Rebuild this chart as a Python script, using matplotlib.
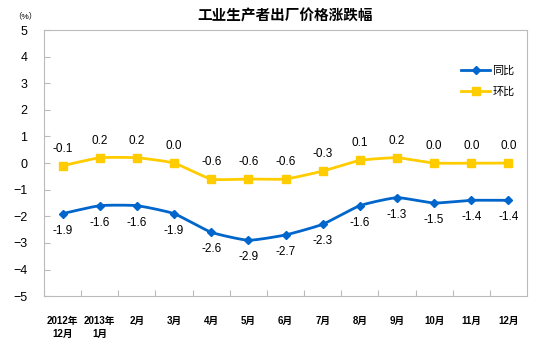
import matplotlib
matplotlib.use("Agg")
import matplotlib.pyplot as plt
import numpy as np

plt.rcParams['font.family'] = ['Liberation Sans', 'Noto Sans CJK SC', 'DejaVu Sans']

# Data
months = ["2012年\n12月", "2013年\n1月", "2月", "3月", "4月", "5月", "6月",
          "7月", "8月", "9月", "10月", "11月", "12月"]
yoy = [-1.9, -1.6, -1.6, -1.9, -2.6, -2.9, -2.7, -2.3, -1.6, -1.3, -1.5, -1.4, -1.4]
mom = [-0.1, 0.2, 0.2, 0.0, -0.6, -0.6, -0.6, -0.3, 0.1, 0.2, 0.0, 0.0, 0.0]

blue = "#0066CC"
yellow = "#FFCC00"


def smooth(x, y, n=20, k=0.5):
    # gentle cardinal spline, close to Excel's smoothed lines
    x = np.asarray(x, float)
    y = np.asarray(y, float)
    px = np.concatenate([[x[0]], x, [x[-1]]])
    py = np.concatenate([[y[0]], y, [y[-1]]])
    xs, ys = [], []
    t = np.linspace(0, 1, n, endpoint=False)
    h00 = 2 * t ** 3 - 3 * t ** 2 + 1
    h10 = t ** 3 - 2 * t ** 2 + t
    h01 = -2 * t ** 3 + 3 * t ** 2
    h11 = t ** 3 - t ** 2
    for i in range(1, len(px) - 2):
        for arr, out in ((px, xs), (py, ys)):
            p0, p1, p2, p3 = arr[i - 1], arr[i], arr[i + 1], arr[i + 2]
            m1 = k * (p2 - p0) / 2
            m2 = k * (p3 - p1) / 2
            out.extend(h00 * p1 + h10 * m1 + h01 * p2 + h11 * m2)
    xs.append(x[-1])
    ys.append(y[-1])
    return xs, ys


fig = plt.figure(figsize=(5.54, 3.62), dpi=100)
ax = fig.add_axes([0.0794, 0.182, 0.872, 0.735])

x = np.arange(len(months))

sx, sy = smooth(x, yoy)
ax.plot(sx, sy, color=blue, lw=2)
ax.plot(x, yoy, color=blue, lw=0, marker="D", ms=4.5)
ax.plot([], [], color=blue, lw=2, marker="D", ms=4.5, label="同比")

sx, sy = smooth(x, mom)
ax.plot(sx, sy, color=yellow, lw=2)
ax.plot(x, mom, color=yellow, lw=0, marker="s", ms=5.5)
ax.plot([], [], color=yellow, lw=2, marker="s", ms=5.5, label="环比")

for xi, v in zip(x, yoy):
    ax.annotate(f"{v:.1f}", (xi, v), xytext=(0, -8), textcoords="offset points",
                ha="center", va="top", fontsize=8.5)
for xi, v in zip(x, mom):
    ax.annotate(f"{v:.1f}", (xi, v), xytext=(0, 8), textcoords="offset points",
                ha="center", va="bottom", fontsize=8.5)

ax.set_xlim(-0.5, len(months) - 0.5)
ax.set_ylim(-5, 5)
ax.set_yticks(range(-5, 6))
ax.tick_params(axis="y", direction="in", length=4, color="#BBBBBB", labelsize=9, pad=12)
ax.set_xticks(np.arange(-0.5, len(months) - 0.5, 1))
ax.set_xticklabels([])
ax.tick_params(axis="x", direction="in", length=4, color="#BBBBBB")
for xi, lab in zip(x, months):
    ax.text(xi, -5.75, lab, ha="center", va="top", fontsize=7, fontweight="bold",
            linespacing=1.4)

for s in ax.spines.values():
    s.set_color("#BBBBBB")

ax.legend(loc="upper right", bbox_to_anchor=(0.995, 0.905), frameon=False,
          fontsize=8, handlelength=2.6, labelspacing=1.0, handletextpad=0.2)

fig.text(0.515, 0.955, "工业生产者出厂价格涨跌幅", ha="center", va="center",
         fontsize=10.5, fontweight="bold")
fig.text(0.045, 0.955, "（%）", ha="center", va="center", fontsize=6)

fig.savefig("out.png", dpi=100)
